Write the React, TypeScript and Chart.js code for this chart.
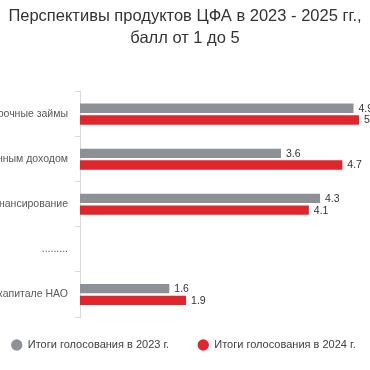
import React, { useEffect, useRef } from "react";
import { Chart, registerables } from "chart.js";

Chart.register(...registerables);

const titleLines = ["Перспективы продуктов ЦФА в 2023 - 2025 гг.,", "балл от 1 до 5"];
const categories = [
  "Краткосрочные займы",
  "ЦФА с фиксированным доходом",
  "Проектное финансирование",
  ".........",
  "Доли в капитале НАО",
];
const seriesNames = ["Итоги голосования в 2023 г.", "Итоги голосования в 2024 г."];
const values2023 = [4.9, 3.6, 4.3, null, 1.6];
const values2024 = [5, 4.7, 4.1, null, 1.9];
const axisMin = 0;
const axisMax = 6.27;

const GRAY = "#8d9095";
const RED = "#e0262c";
const OFFSET = 60;
const CW = 370 + OFFSET * 2;
const CH = 370;
const FONT = "'Liberation Sans', Arial, sans-serif";

const valueLabels = {
  id: "valueLabels",
  afterDatasetsDraw(chart: any) {
    const ctx = chart.ctx;
    ctx.save();
    ctx.font = `10.5px ${FONT}`;
    ctx.fillStyle = "#333333";
    ctx.textAlign = "left";
    ctx.textBaseline = "middle";
    chart.data.datasets.forEach((ds: any, di: number) => {
      const meta = chart.getDatasetMeta(di);
      meta.data.forEach((el: any, i: number) => {
        const v = ds.data[i];
        if (v === null || v === undefined) return;
        ctx.fillText(String(v), el.x + 5, el.y + 0.5);
      });
    });
    ctx.restore();
  },
};

export default function App() {
  const ref = useRef<HTMLCanvasElement | null>(null);
  useEffect(() => {
    if (!ref.current) return;
    const chart = new Chart(ref.current, {
      type: "bar",
      data: {
        labels: categories,
        datasets: [
          {
            label: seriesNames[0] + "\u00A0\u00A0",
            data: values2023,
            backgroundColor: GRAY,
            borderWidth: 0,
            categoryPercentage: 0.52,
            barPercentage: 0.8,
          },
          {
            label: seriesNames[1] + "\u00A0",
            data: values2024,
            backgroundColor: RED,
            borderWidth: 0,
            categoryPercentage: 0.52,
            barPercentage: 0.8,
          },
        ],
      },
      plugins: [valueLabels],
      options: {
        indexAxis: "y",
        responsive: false,
        animation: false,
        layout: { padding: { left: 0, right: 0, top: 0, bottom: 9.5 } },
        scales: {
          x: { display: false, min: axisMin, max: axisMax },
          y: {
            grid: {
              drawOnChartArea: false,
              drawTicks: true,
              tickLength: 5,
              color: "#d9d9d9",
              offset: true,
            },
            border: { display: true, color: "#d9d9d9" },
            ticks: {
              color: "#595959",
              padding: 7,
              font: { family: FONT, size: 10.5 },
            },
            afterFit(scale: any) {
              scale.width = 80 + OFFSET;
            },
          },
        },
        plugins: {
          title: {
            display: true,
            text: titleLines,
            color: "#333333",
            font: { family: FONT, size: 16.5, weight: "normal", lineHeight: 1.32 },
            padding: { top: 6, bottom: 42 },
          },
          legend: {
            position: "bottom",
            labels: {
              usePointStyle: true,
              pointStyle: "circle",
              boxWidth: 11,
              boxHeight: 8,
              padding: 22.5,
              color: "#404040",
              font: { family: FONT, size: 11 },
            },
          },
          tooltip: { enabled: false },
        },
      },
    });
    return () => chart.destroy();
  }, []);
  return (
    <div style={{ position: "fixed", left: 0, top: 0, width: 370, height: 370, overflow: "hidden", background: "#fff" }}>
      <canvas ref={ref} width={CW} height={CH} style={{ position: "absolute", left: -OFFSET, top: 0, width: CW, height: CH }} />
    </div>
  );
}
